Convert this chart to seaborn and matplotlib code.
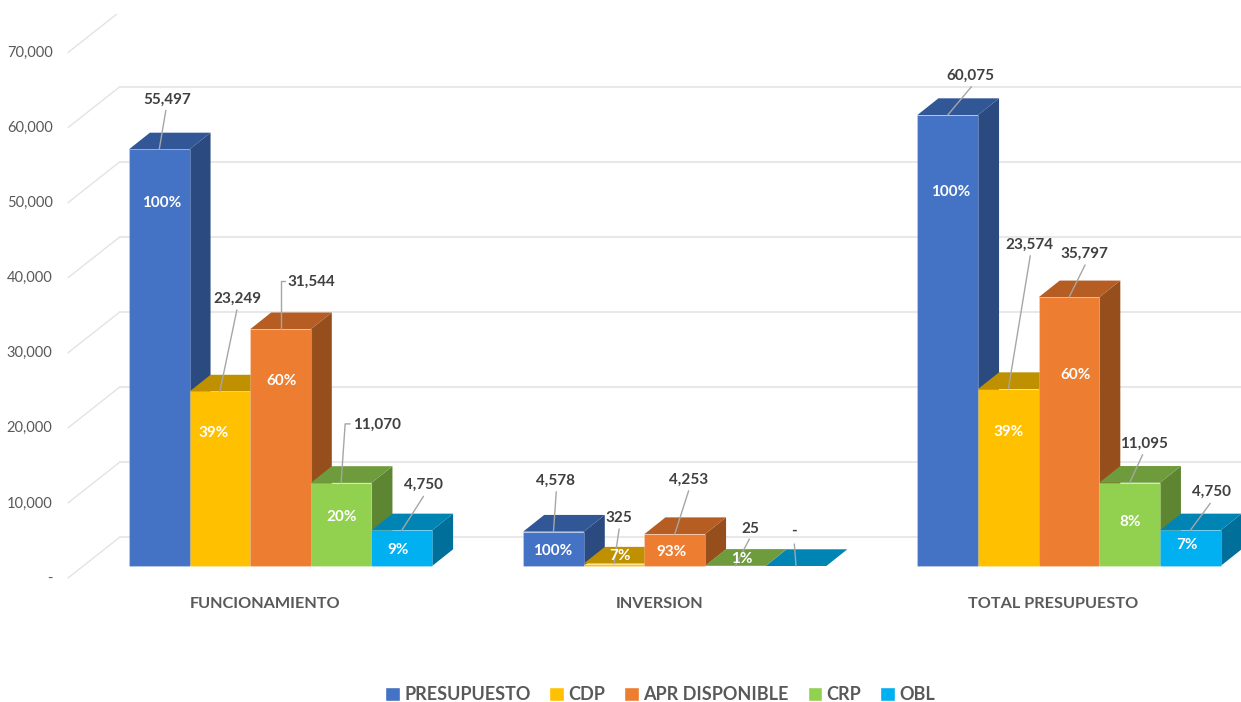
import pandas as pd
import seaborn as sns
import matplotlib
matplotlib.use("Agg")
import matplotlib.pyplot as plt

categorias = ["FUNCIONAMIENTO", "INVERSION", "TOTAL PRESUPUESTO"]
series = ["PRESUPUESTO", "CDP", "APR DISPONIBLE", "CRP", "OBL"]
presupuesto = [55497, 4578, 60075]
cdp = [23249, 325, 23574]
apr_disponible = [31544, 4253, 35797]
crp = [11070, 25, 11095]
obl = [4750, 0, 4750]
pct_presupuesto = ["100%", "100%", "100%"]
pct_cdp = ["39%", "7%", "39%"]
pct_apr = ["60%", "93%", "60%"]
pct_crp = ["20%", "1%", "8%"]
pct_obl = ["9%", "", "7%"]
eje_y = [0, 10000, 20000, 30000, 40000, 50000, 60000, 70000]

#colors: front, top, side
frente = ["#4472C4", "#FFC000", "#ED7D31", "#92D050", "#00B0F0"]
techo = ["#325796", "#BF9000", "#B55D23", "#6E9C3C", "#0084B4"]
lado = ["#2A4A80", "#997300", "#964F1C", "#5E8632", "#006F99"]

#picture scale, pixels per unit
XS = 394.25
YS = 0.007507
PROF_X, PROF_Y = 21, 16.7    #depth of a bar
PARED_X, PARED_Y = 52, 41    #depth of the back wall
GRIS = "#595959"

#label layout, pixels from the middle of the bar top (x right, y up), bar by bar
off_valor = [(7.6, 51), (17.8, 93.5), (31, 48), (36.2, 58.9), (21.4, 46.3),
             (2.5, 51.6), (5, 46.3), (13.6, 55), (14.7, 38), (-1.7, 36),
             (23, 40), (21.5, 145), (15.7, 44), (14.6, 39.7), (20.8, 39.3)]
off_guia = [[(6.6, 39)], [(17, 81.5)], [(0, 48), (4, 48)], [(4, 59), (9, 59)], [(21.7, 34)],
            [(2.8, 39.9)], [(5, 34.6)], [(13.9, 43.3)], [(14, 26.8)], [(-1.7, 22)],
            [(23.7, 28.3)], [(21.9, 133.3)], [(16.1, 32.3)], [(13, 28)], [(20, 27)]]
off_pct = [(2.6, -52), (-6, -40.5), (1, -50), (0, -33), (-3.6, -17.7),
           (-0.5, -17.4), (5.7, 8.6), (-3, -16), (6, 8.8), (0, 0),
           (3, -75), (0, -41), (6.4, -76), (0, -38), (-3, -13)]

sns.set_theme(style="white")
plt.rcParams["font.family"] = ["Lato", "DejaVu Sans"]

valores = [presupuesto, cdp, apr_disponible, crp, obl]
porcentajes = [pct_presupuesto, pct_cdp, pct_apr, pct_crp, pct_obl]
filas = []
for s, vals in zip(series, valores):
    for c, v in zip(categorias, vals):
        filas.append({"categoria": c, "serie": s, "valor": v})
df = pd.DataFrame(filas)

fig = plt.figure(figsize=(12.41, 7.02), dpi=100)
ax = fig.add_axes([0, 0, 1, 688 / 702])
sns.barplot(data=df, x="categoria", y="valor", hue="serie", hue_order=series,
            order=categorias, palette=frente, saturation=1, width=0.769, gap=0, ax=ax)
ax.set_xlim(-280.5 / XS, 960.5 / XS)
ax.set_ylim(-136 / YS, 552 / YS)
ax.set_xlabel("")
ax.set_ylabel("")
ax.set_xticks([])
ax.set_yticks([])
sns.despine(ax=ax, left=True, bottom=True)

#back wall and diagonals
x_izq = ax.get_xlim()[0] + 68 / XS
for v in eje_y:
    y_frente = v - 12 / YS
    y_fondo = y_frente + PARED_Y / YS
    ax.plot([x_izq, x_izq + PARED_X / XS], [y_frente, y_fondo], color="#E3E3E3", lw=1, zorder=1)
    ax.plot([x_izq + PARED_X / XS, ax.get_xlim()[1]], [y_fondo, y_fondo], color="#E8E8E8", lw=1.5, zorder=1)
    txt = "-" if v == 0 else f"{v:,}"
    ax.text(x_izq - 15.5 / XS, y_frente - 0.5 / YS, txt, ha="right", va="center", fontsize=10.5, color=GRIS)

for i, c in enumerate(categorias):
    ax.text(i - 15.5 / XS, -38 / YS, c, ha="center", va="center", fontsize=11.7, fontweight="bold", color=GRIS)

#3d sides, drawn bar by bar from left to right
barras = []
for j, cont in enumerate(ax.containers):
    for i, b in enumerate(cont):
        barras.append((b.get_x(), i, j, b))
barras.sort(key=lambda t: t[0])

for n, (x0, i, j, b) in enumerate(barras):
    z = 3 + n
    w = b.get_width()
    h = b.get_height()
    dx = PROF_X / XS
    dy = PROF_Y / YS
    ax.fill([x0 + w, x0 + w + dx, x0 + w + dx, x0 + w], [0, dy, h + dy, h], color=lado[j], lw=0, zorder=z)
    ax.fill([x0, x0 + dx, x0 + w + dx, x0 + w], [h, h + dy, h + dy, h], color=techo[j], lw=0, zorder=z)
    b.set_zorder(z + 0.5)
    b.set_edgecolor((1, 1, 1, 0.2))
    b.set_linewidth(0.8)

#labels
for i in range(len(categorias)):
    for j in range(len(series)):
        b = ax.containers[j][i]
        k = i * len(series) + j
        cx = b.get_x() + b.get_width() / 2
        h = b.get_height()
        guia_x = [cx] + [cx + p[0] / XS for p in off_guia[k]]
        guia_y = [h] + [h + p[1] / YS for p in off_guia[k]]
        ax.plot(guia_x, guia_y, color="#A6A6A6", lw=1, zorder=40)
        txt = f"{valores[j][i]:,}" if valores[j][i] else "-"
        ax.text(cx + off_valor[k][0] / XS, h + (off_valor[k][1] - 1) / YS, txt, ha="center", va="center",
                fontsize=11, fontweight="bold", color="#404040", zorder=41)
        ax.text(cx + off_pct[k][0] / XS, h + (off_pct[k][1] - 1.5) / YS, porcentajes[j][i], ha="center", va="center",
                fontsize=11, fontweight="bold", color="white", zorder=41)

sns.move_legend(ax, "center", bbox_to_anchor=(660 / 1241, 7 / 702), bbox_transform=fig.transFigure,
                ncol=5, title=None, frameon=False, handlelength=0.8, handleheight=0.8,
                handletextpad=0.25, columnspacing=1.05, labelcolor=GRIS, prop={"weight": "bold", "size": 13})

plt.savefig("out.png", dpi=100)
